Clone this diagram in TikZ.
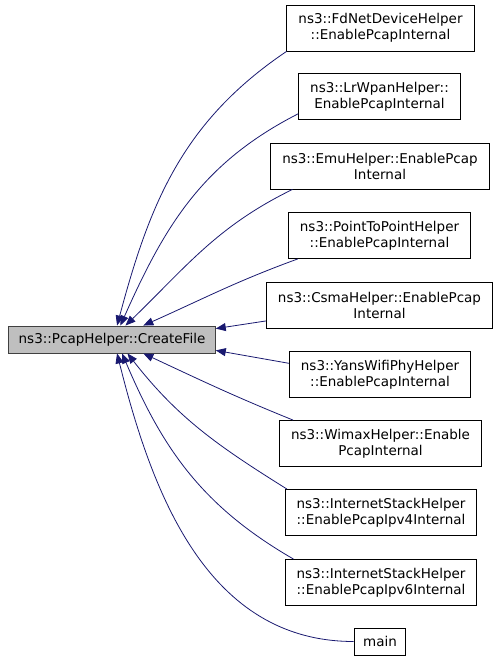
\documentclass[tikz,border=0pt]{standalone}
\usepackage{fontspec}
\setmainfont{DejaVu Sans}
\usetikzlibrary{arrows.meta}
\definecolor{callblue}{RGB}{25,25,112}
\definecolor{focusgray}{RGB}{191,191,191}
\definecolor{focusline}{RGB}{64,64,64}

\begin{document}
\begin{tikzpicture}[x=1pt, y=1pt,
    caller/.style = {rectangle, draw, line width=0.9pt, fill=white, align=center, inner xsep=11.5pt, inner ysep=0pt, minimum height=46pt},
    callee/.style = {rectangle, draw=focusline, line width=0.9pt, fill=focusgray, inner xsep=10pt, inner ysep=0pt, minimum height=27pt},
    call/.style = {-{Triangle[length=10pt, width=8pt]}, draw=callblue, line width=0.8pt},
    font=\fontsize{13.5}{16}\selectfont]
  \useasboundingbox (0, 0) rectangle (499, 664);

  % Function whose callers are shown.
  \node at (112, 324.5) [callee, name=CreateFile] {ns3::PcapHelper::CreateFile};

  % Callers.
  \node at (380.5, 636) [caller, name=FdNet] {ns3::FdNetDeviceHelper\\::EnablePcapInternal};
  \node at (379.5, 567.5) [caller, name=LrWpan] {ns3::LrWpanHelper::\\EnablePcapInternal};
  \node at (380, 498) [caller, name=Emu] {ns3::EmuHelper::EnablePcap\\Internal};
  \node at (379.5, 428.5) [caller, name=PointToPoint] {ns3::PointToPointHelper\\::EnablePcapInternal};
  \node at (379.5, 359) [caller, name=Csma] {ns3::CsmaHelper::EnablePcap\\Internal};
  \node at (380, 289.5) [caller, name=YansWifiPhy] {ns3::YansWifiPhyHelper\\::EnablePcapInternal};
  \node at (380.5, 220.5) [caller, name=Wimax] {ns3::WimaxHelper::Enable\\PcapInternal};
  \node at (381, 151.5) [caller, name=StackIpv4] {ns3::InternetStackHelper\\::EnablePcapIpv4Internal};
  \node at (381, 81.5) [caller, name=StackIpv6] {ns3::InternetStackHelper\\::EnablePcapIpv6Internal};
  \node at (380, 22.5) [caller, minimum height=27pt, inner xsep=9pt, name=Main] {main};

  % Calls from above.
  \draw [call] (FdNet.south west)
               to [out=214, in=75]
               (CreateFile.70);
  \draw [call] (LrWpan.192)
               to [out=207, in=66]
               (CreateFile.59);
  \draw [call] (Emu.195)
               to [out=206, in=44]
               (CreateFile.46);
  \draw [call] (PointToPoint.196)
               to [out=200, in=24]
               (CreateFile.24);

  % Calls from the side.
  \draw [call] (Csma.188)
               --
               (CreateFile.6);
  \draw [call] (YansWifiPhy.173)
               --
               (CreateFile.354);

  % Calls from below.
  \draw [call] (Wimax.165)
               to [out=158, in=335]
               (CreateFile.336);
  \draw [call] (StackIpv4.166)
               to [out=148, in=308]
               (CreateFile.318);
  \draw [call] (StackIpv6.165)
               to [out=150, in=293]
               (CreateFile.306);
  \draw [call] (Main.west)
               to [out=180, in=284]
               (CreateFile.290);
\end{tikzpicture}
\end{document}
